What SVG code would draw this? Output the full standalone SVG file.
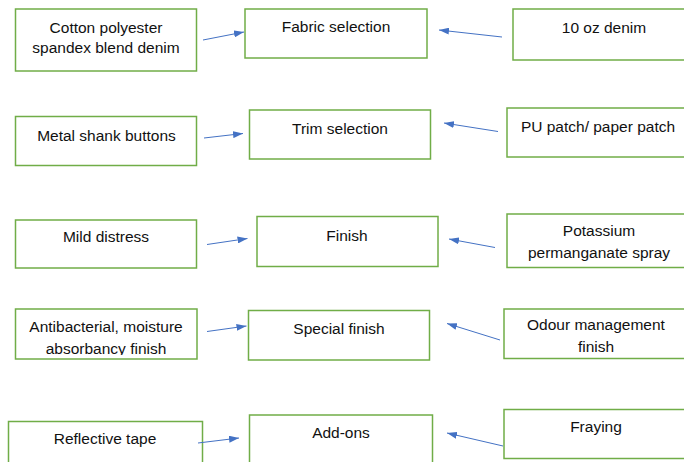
<svg xmlns="http://www.w3.org/2000/svg" width="684" height="462" viewBox="0 0 684 462">
<style>
.box{fill:#fff;stroke:#70AD47;stroke-width:1.5}
.t{font-family:"Liberation Sans",Arial,sans-serif;font-size:15.5px;fill:#111;text-anchor:middle}
.c{stroke:#4472C4;stroke-width:1;fill:none;marker-end:url(#ah)}
</style>
<defs>
<marker id="ah" viewBox="0 0 10 7" markerWidth="10" markerHeight="7" refX="10" refY="3.5" orient="auto" markerUnits="userSpaceOnUse">
<path d="M0,0 L10,3.5 L0,7 Z" fill="#4472C4"/>
</marker>
<clipPath id="clipAnti"><rect x="0" y="300" width="240" height="55"/></clipPath>
</defs>
<rect width="684" height="462" fill="#fff"/>

<g id="n-cotton"><rect class="box" x="15.5" y="9" width="181" height="62"/><text class="t" x="106" y="33">Cotton polyester</text><text class="t" x="106" y="53">spandex blend denim</text></g>
<g id="n-fabric"><rect class="box" x="245" y="9" width="182" height="49"/><text class="t" x="336" y="32">Fabric selection</text></g>
<g id="n-10oz"><rect class="box" x="513" y="9" width="190" height="51"/><text class="t" x="604" y="33">10 oz denim</text></g>

<g id="n-metal"><rect class="box" x="15.5" y="116.5" width="181" height="49"/><text class="t" x="106.5" y="141">Metal shank buttons</text></g>
<g id="n-trim"><rect class="box" x="249.5" y="110" width="181" height="49"/><text class="t" x="340" y="134">Trim selection</text></g>
<g id="n-pu"><rect class="box" x="507" y="108" width="190" height="49"/><text class="t" x="598" y="132">PU patch/ paper patch</text></g>

<g id="n-mild"><rect class="box" x="15.5" y="220" width="181" height="48"/><text class="t" x="106" y="242">Mild distress</text></g>
<g id="n-finish"><rect class="box" x="257" y="216.5" width="181" height="50"/><text class="t" x="347" y="241">Finish</text></g>
<g id="n-potassium"><rect class="box" x="507" y="214" width="190" height="53.5"/><text class="t" x="599" y="236">Potassium</text><text class="t" x="599" y="258">permanganate spray</text></g>

<g id="n-anti"><rect class="box" x="15.5" y="309" width="181.5" height="50"/><g clip-path="url(#clipAnti)"><text class="t" x="106" y="332">Antibacterial, moisture</text><text class="t" x="106" y="354">absorbancy finish</text></g></g>
<g id="n-special"><rect class="box" x="248.5" y="310.5" width="181" height="49.5"/><text class="t" x="339" y="334">Special finish</text></g>
<g id="n-odour"><rect class="box" x="504" y="309" width="190" height="49.5"/><text class="t" x="596" y="330">Odour management</text><text class="t" x="596" y="352">finish</text></g>

<g id="n-reflective"><rect class="box" x="8.5" y="421.5" width="194" height="50"/><text class="t" x="105" y="443.5">Reflective tape</text></g>
<g id="n-addons"><rect class="box" x="249.5" y="415" width="183" height="55"/><text class="t" x="341" y="438">Add-ons</text></g>
<g id="n-fraying"><rect class="box" x="504" y="409.5" width="190" height="49"/><text class="t" x="596" y="432">Fraying</text></g>

<g id="connectors">
<line class="c" x1="203" y1="40" x2="244" y2="32"/>
<line class="c" x1="502" y1="37" x2="439" y2="30"/>
<line class="c" x1="204" y1="138" x2="243" y2="133.5"/>
<line class="c" x1="498" y1="131.5" x2="444" y2="123"/>
<line class="c" x1="207" y1="244.5" x2="247.5" y2="238.5"/>
<line class="c" x1="495" y1="247.5" x2="449" y2="239"/>
<line class="c" x1="207" y1="331.5" x2="246.5" y2="326"/>
<line class="c" x1="500" y1="340" x2="447" y2="323.5"/>
<line class="c" x1="198" y1="443" x2="239" y2="438"/>
<line class="c" x1="503" y1="446" x2="447" y2="433"/>
</g>
</svg>
